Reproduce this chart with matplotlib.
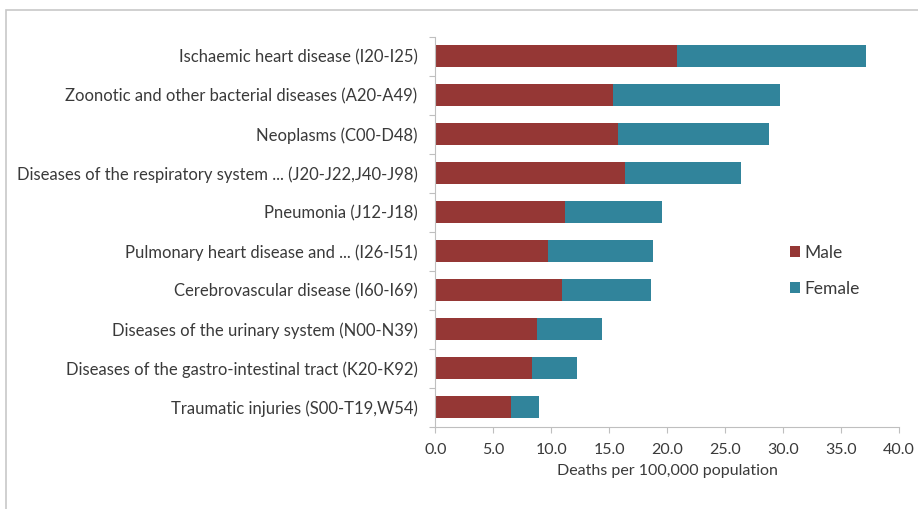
import numpy as np
import matplotlib.pyplot as plt
from matplotlib.patches import Rectangle

plt.rcParams['font.family'] = ['Lato', 'DejaVu Sans']

causes = [
    "Ischaemic heart disease (I20-I25)",
    "Zoonotic and other bacterial diseases (A20-A49)",
    "Neoplasms (C00-D48)",
    "Diseases of the respiratory system ... (J20-J22,J40-J98)",
    "Pneumonia (J12-J18)",
    "Pulmonary heart disease and ... (I26-I51)",
    "Cerebrovascular disease (I60-I69)",
    "Diseases of the urinary system (N00-N39)",
    "Diseases of the gastro-intestinal tract (K20-K92)",
    "Traumatic injuries (S00-T19,W54)",
]
male = [20.9, 15.3, 15.8, 16.4, 11.2, 9.7, 10.9, 8.8, 8.3, 6.5]
female = [16.3, 14.5, 13.0, 10.0, 8.4, 9.1, 7.7, 5.6, 3.9, 2.4]
xticks = [0, 5, 10, 15, 20, 25, 30, 35, 40]

male_col = '#953735'
female_col = '#31849B'
text_col = '#3a3a3a'
axis_col = '#bfbfbf'

fig = plt.figure(figsize=(9.18, 5.09), dpi=100)
ax = fig.add_axes([0.4744, 0.1617, 0.5044, 0.7663])

y = np.arange(len(causes))[::-1]
ax.barh(y, male, height=0.56, color=male_col, label='Male')
ax.barh(y, female, left=male, height=0.56, color=female_col, label='Female')

ax.set_xlim(0, 40)
ax.set_ylim(-0.5, len(causes) - 0.5)
ax.set_xticks(xticks)
ax.set_xticklabels([f"{v:.1f}" for v in xticks], fontsize=11.5, color=text_col)
ax.set_yticks(np.arange(len(causes) + 1) - 0.5, minor=False)
ax.set_yticklabels([])
ax.set_yticks(y, minor=True)
ax.set_yticklabels(causes, minor=True, fontsize=12, color=text_col)
ax.tick_params(axis='y', which='minor', length=0, pad=13)
ax.tick_params(axis='y', which='major', length=4, color=axis_col, direction='out')
ax.tick_params(axis='x', length=4, color=axis_col, pad=8)

for s in ['top', 'right']:
    ax.spines[s].set_visible(False)
for s in ['left', 'bottom']:
    ax.spines[s].set_color(axis_col)

ax.set_xlabel("Deaths per 100,000 population", fontsize=11.5, color=text_col, labelpad=5)

ax.legend(loc='center left', bbox_to_anchor=(0.732, 0.40), frameon=False,
          fontsize=12.5, handlelength=0.55, handleheight=0.55, handletextpad=0.25,
          labelspacing=1.15, labelcolor=text_col)

# chart border
fig.patches.append(Rectangle((0.006, -0.1), 1.2, 1.08, transform=fig.transFigure,
                             fill=False, edgecolor='#c8c8c8', linewidth=1.2))

fig.savefig("out.png", dpi=100)
